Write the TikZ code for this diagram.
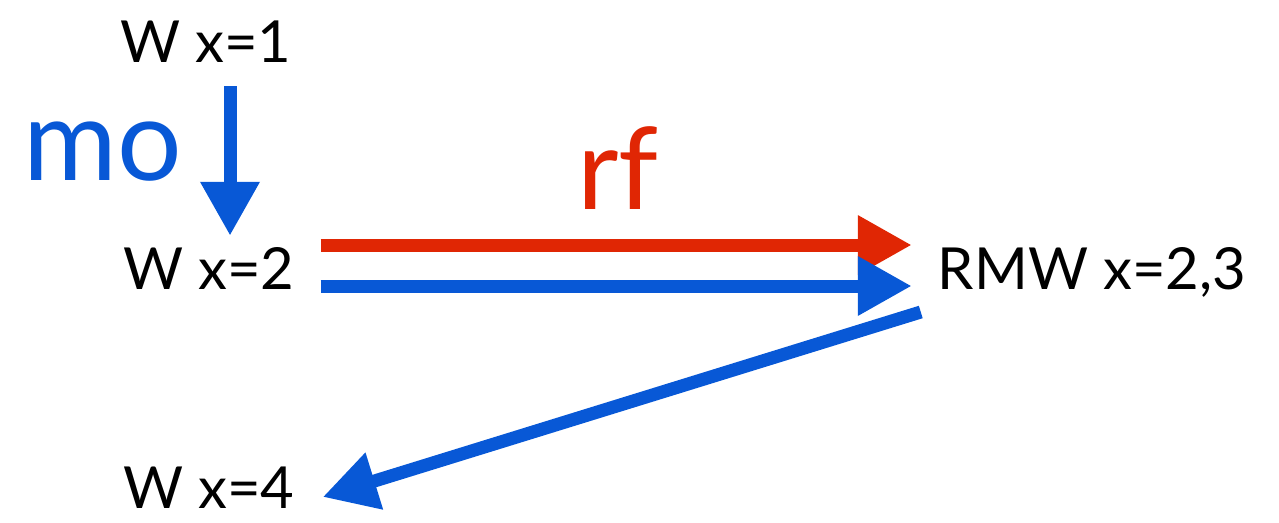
\documentclass[tikz,border=0pt]{standalone}
\usepackage{fontspec}
\setmainfont{Lato}
\usepackage{tikz}
\usetikzlibrary{arrows.meta,calc}
\definecolor{moblue}{RGB}{8,88,214}
\definecolor{rfred}{RGB}{224,38,4}
\tikzset{
  ev/.style    = {inner sep=0pt, font=\fontsize{58}{60}\selectfont},
  rel/.style   = {inner sep=0pt, font=\fontsize{114}{114}\selectfont},
  fl/.style    = {-{Triangle[length=54pt,width=56pt]}, line width=13pt},
  mo/.style    = {fl, draw=moblue},
  rf/.style    = {fl, draw=rfred},
}

\begin{document}
\begin{tikzpicture}[x=1pt,y=-1pt]
    \useasboundingbox (0,0) rectangle (1279,522);
    % events
    \node[ev] (w1)  at (206,42)   {W x=1};
    \node[ev] (w2)  at (209,268)  {W x=2};
    \node[ev] (rmw) at (1092,272) {RMW x=2,3};
    \node[ev] (w4)  at (209,488)  {W x=4};
    % relation names
    \node[rel, text=moblue] (mol) at (103,152) {mo};
    \node[rel, text=rfred]  (rfl) at (618,168) {rf};
    % edges
    \draw[mo] ($(w1.south)+(24,23)$) -- ($(w2.north)+(21,-11)$);
    \draw[rf] ($(w2.east)+(26,-23)$) -- ($(rmw.west)+(-26,-27)$);
    \draw[mo] ($(w2.east)+(26,18)$) -- ($(rmw.west)+(-26,14)$);
    \draw[mo] ($(rmw.west)+(-17,40)$) -- ($(w4.east)+(28,9)$);
\end{tikzpicture}
\end{document}
